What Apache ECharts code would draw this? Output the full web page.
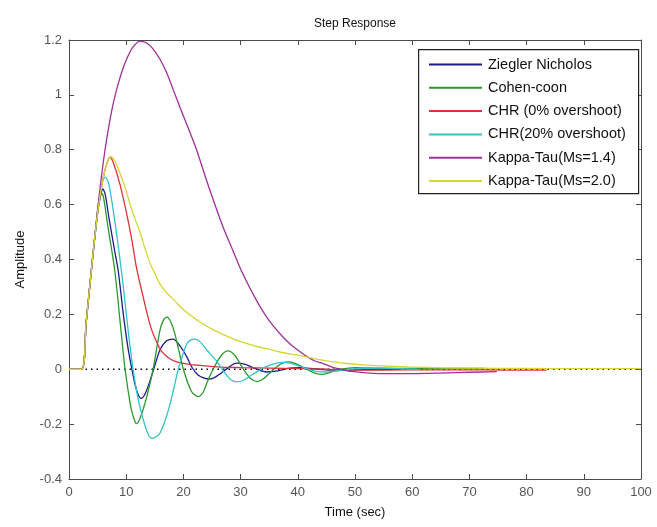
<!DOCTYPE html>
<html>
<head>
<meta charset="utf-8">
<script src="https://cdn.jsdelivr.net/npm/echarts@6/dist/echarts.min.js"></script>
<style>html,body{margin:0;padding:0;background:#fff}#c{width:657px;height:527px}</style>
</head>
<body>
<div id="c"></div>
<script>
// ---- data (t in sec, amplitude) ----
const xTicks = [0,10,20,30,40,50,60,70,80,90,100];
const yTicks = [-0.4,-0.2,0,0.2,0.4,0.6,0.8,1,1.2];
const seriesNames = ['Ziegler Nicholos','Cohen-coon','CHR (0% overshoot)','CHR(20% overshoot)','Kappa-Tau(Ms=1.4)','Kappa-Tau(Ms=2.0)'];

const zieglerNichols = [[0,0],[2.2,0],[3,0.17],[4,0.38],[5,0.57],[5.5,0.63],[5.9,0.657],[6.3,0.64],[7,0.55],[8,0.43],[8.6,0.36],[9.5,0.2],[10.3,0.08],[11,0],[11.8,-0.075],[12.6,-0.106],[13.3,-0.09],[14.2,-0.04],[15.1,0.02],[15.9,0.07],[17,0.103],[18.2,0.11],[19.4,0.085],[20.6,0.045],[21.4,0.01],[22.5,-0.02],[23.6,-0.032],[24.7,-0.035],[26.2,-0.02],[27.8,0.005],[29.3,0.022],[30.8,0.018],[32.5,0.003],[34.6,-0.01],[36.5,-0.006],[38.5,0.004],[40.5,0.006],[43,0.001],[46,-0.003],[50,-0.002],[54,0],[58,0]];
const cohenCoon = [[0,0],[2.2,0],[3,0.17],[4,0.38],[5,0.58],[5.3,0.625],[5.6,0.645],[6,0.63],[6.8,0.52],[8,0.36],[9.2,0.118],[9.8,0],[10.7,-0.125],[11.2,-0.17],[11.8,-0.198],[12.5,-0.175],[13.6,-0.1],[14.7,0],[15.9,0.142],[16.5,0.178],[17.1,0.19],[17.8,0.172],[18.5,0.13],[20,0],[21.4,-0.08],[22.6,-0.1],[23.5,-0.082],[24.1,-0.05],[25.2,0],[26.6,0.05],[27.8,0.067],[29,0.05],[30.5,0],[31.8,-0.035],[32.9,-0.045],[34,-0.035],[35.8,0],[37.3,0.022],[38.6,0.027],[40,0.017],[41.6,0],[43,-0.014],[44.2,-0.019],[45.6,-0.012],[47.5,0],[50,0.006],[54,0.004],[60,0.003],[66,0.003],[72.7,0.003]];
const chr0 = [[0,0],[2.2,0],[3,0.17],[4,0.38],[5,0.57],[6,0.7],[6.7,0.755],[7.2,0.772],[7.8,0.75],[8.9,0.675],[10,0.575],[11,0.47],[11.8,0.37],[12.7,0.287],[14.2,0.16],[15.3,0.1],[16.2,0.065],[17.5,0.04],[18.8,0.027],[21,0.018],[23,0.014],[26.4,0.008],[30,0.006],[35,0.004],[40,0.002],[45,0],[50,-0.003],[55,-0.003],[62,-0.002],[70,-0.002],[76,-0.003],[83.5,-0.003]];
const chr20 = [[0,0],[2.2,0],[3,0.17],[4,0.38],[5,0.57],[5.6,0.66],[6.3,0.7],[6.9,0.68],[7.8,0.57],[8.6,0.45],[9.5,0.3],[10.4,0.13],[11.2,0],[12.1,-0.11],[13,-0.185],[13.8,-0.235],[14.5,-0.252],[15.3,-0.245],[15.9,-0.233],[17,-0.175],[18,-0.1],[19.1,0],[20,0.06],[20.6,0.093],[21.3,0.107],[22,0.11],[23,0.098],[24.1,0.07],[25.8,0.03],[27.3,-0.015],[28.3,-0.038],[29.3,-0.046],[30.5,-0.04],[32,-0.02],[34,0.005],[35.8,0.02],[37.7,0.025],[39.5,0.017],[41.5,0.002],[43.5,-0.009],[45,-0.01],[47,-0.006],[50,0.002],[54,0.004],[58,0.002],[61,0]];
const kappa14 = [[0,0],[2.2,0],[3,0.17],[4,0.38],[5,0.58],[5.6,0.69],[6.3,0.8],[7,0.89],[7.75,0.97],[8.6,1.04],[9.5,1.1],[10.4,1.145],[11.2,1.175],[12.4,1.195],[13.5,1.19],[14.5,1.172],[15.9,1.13],[17.1,1.08],[18.2,1.02],[19.4,0.955],[21.2,0.86],[22.3,0.8],[24.1,0.685],[25.6,0.595],[27,0.515],[28.5,0.44],[29.9,0.37],[31.4,0.305],[32.8,0.25],[34.3,0.198],[35.7,0.158],[37.2,0.122],[38.6,0.093],[40.1,0.068],[41.6,0.046],[43,0.03],[44.5,0.02],[46,0.008],[47.5,0],[49.5,-0.008],[52.5,-0.014],[56,-0.016],[60,-0.016],[65,-0.014],[70,-0.011],[74.8,-0.009]];
const kappa20 = [[0,0],[2.2,0],[3,0.17],[4,0.38],[5,0.57],[6,0.7],[6.7,0.755],[7.3,0.775],[8,0.76],[9,0.71],[10,0.65],[10.7,0.6],[11.5,0.55],[12.4,0.5],[13.3,0.44],[14.2,0.385],[15,0.35],[15.9,0.31],[17,0.28],[18,0.26],[19,0.238],[20,0.218],[21.2,0.198],[22.9,0.172],[25,0.146],[27,0.126],[28.7,0.111],[31,0.094],[33,0.082],[34.6,0.075],[37,0.062],[40.4,0.05],[43,0.038],[46.2,0.027],[49,0.02],[52,0.015],[56,0.011],[60,0.008],[65,0.005],[70,0.004],[80,0.003],[90,0.002],[100,0.002]];
const zeroLine = [[0,0],[100,0]];

const dataSets = [zieglerNichols, cohenCoon, chr0, chr20, kappa14, kappa20];
const colors = ['#1c1c8c','#2a9a2a','#e0303a','#30c4c8','#a0309a','#d6d632'];

const chart = echarts.init(document.getElementById('c'), null, {renderer:'canvas'});
const axisCol = '#4a4a4a';
const font = 'Liberation Sans, Arial, sans-serif';

const lineSeries = dataSets.map((d,i)=>({
  name: seriesNames[i], type:'line', data:d, symbol:'none', smooth:0.3,
  xAxisIndex:0, yAxisIndex:0,
  lineStyle:{color:colors[i], width:1.3}, itemStyle:{color:colors[i]},
  animation:false, z:2
}));

chart.setOption({
  animation:false,
  backgroundColor:'#fff',
  grid:{left:69, right:16, top:40, bottom:48, containLabel:false},
  legend:{
    data: seriesNames, orient:'vertical', left:429, top:57, z:10,
    itemWidth:53, itemHeight:2, itemGap:8.3, icon:'rect', itemStyle:{borderWidth:0},
    textStyle:{fontFamily:font, fontSize:14.5, color:'#111', lineHeight:15, padding:[0,0,0,1]},
    selectedMode:false, padding:0
  },
  graphic:[
    {type:'rect', left:418, top:49, shape:{width:220, height:144}, style:{fill:'#fff', stroke:'#222', lineWidth:1.2}, z:5, silent:true},
    {type:'text', x:355, y:24, style:{text:'Step Response', fontFamily:font, fontSize:12, fill:'#111', textAlign:'center', textVerticalAlign:'middle'}}
  ],
  xAxis:[
    {type:'value', min:0, max:100, interval:10, position:'bottom',
     name:'Time (sec)', nameLocation:'middle', nameGap:27, nameTextStyle:{fontFamily:font, fontSize:13, color:'#111'},
     axisLine:{show:true, onZero:false, lineStyle:{color:axisCol, width:1}},
     axisTick:{show:true, inside:true, length:5, lineStyle:{color:axisCol}},
     axisLabel:{fontFamily:font, fontSize:13, color:'#555', margin:7},
     splitLine:{show:false}},
    {type:'value', min:0, max:100, interval:10, position:'top',
     axisLine:{show:true, onZero:false, lineStyle:{color:axisCol, width:1}},
     axisTick:{show:true, inside:true, length:5, lineStyle:{color:axisCol}},
     axisLabel:{show:false}, splitLine:{show:false}}
  ],
  yAxis:[
    {type:'value', min:-0.4, max:1.2, interval:0.2, position:'left',
     name:'Amplitude', nameLocation:'middle', nameGap:42, nameTextStyle:{fontFamily:font, fontSize:13, color:'#111'},
     axisLine:{show:true, onZero:false, lineStyle:{color:axisCol, width:1}},
     axisTick:{show:true, inside:true, length:5, lineStyle:{color:axisCol}},
     axisLabel:{fontFamily:font, fontSize:13, color:'#555', margin:7,
       formatter:v=>{const r=Math.round(v*10)/10; return String(r);}},
     splitLine:{show:false}},
    {type:'value', min:-0.4, max:1.2, interval:0.2, position:'right',
     axisLine:{show:true, onZero:false, lineStyle:{color:axisCol, width:1}},
     axisTick:{show:true, inside:true, length:5, lineStyle:{color:axisCol}},
     axisLabel:{show:false}, splitLine:{show:false}}
  ],
  series:[
    {name:'zero', type:'line', data:zeroLine, symbol:'none', xAxisIndex:0, yAxisIndex:0,
     lineStyle:{color:'#000', width:1.5, type:[1.5,4]}, z:2, silent:true}
  ].concat(lineSeries)
});
</script>
</body>
</html>
